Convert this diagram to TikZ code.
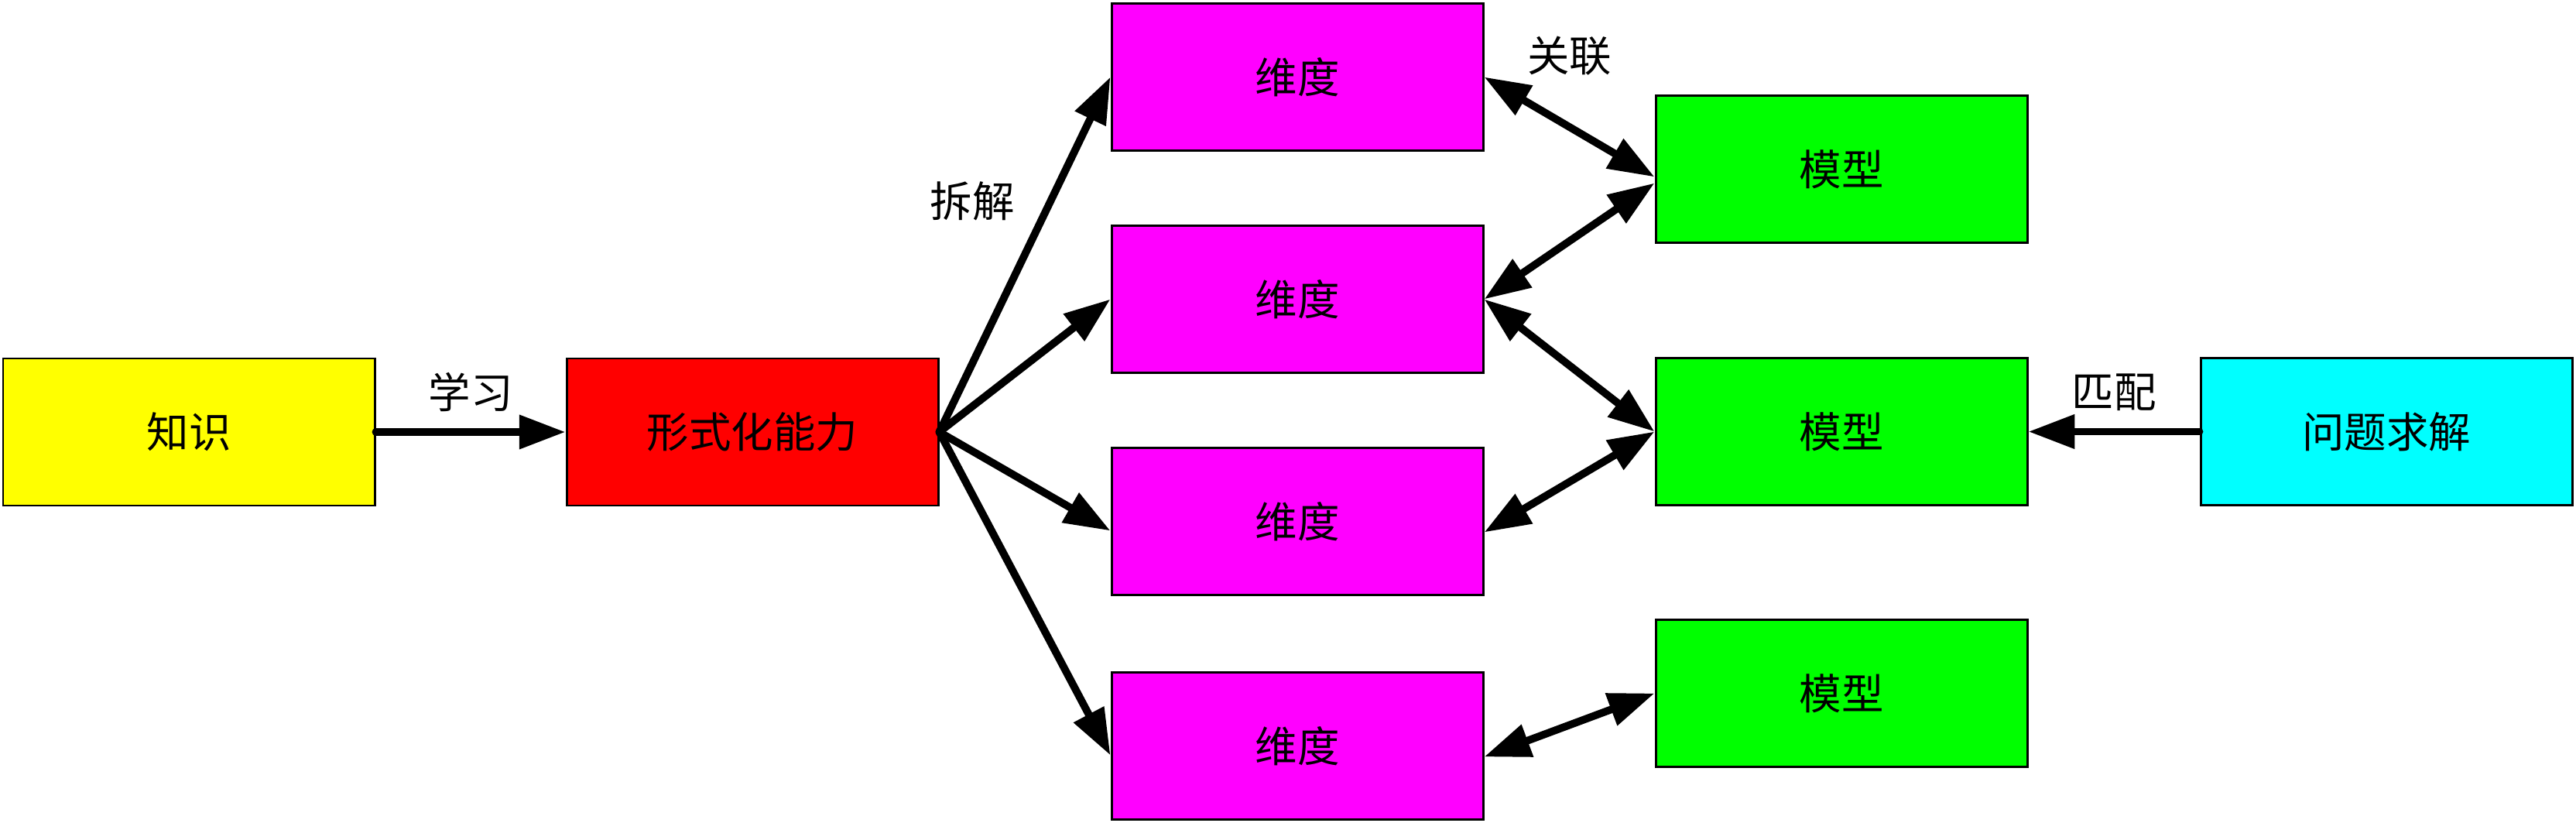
\documentclass[tikz,border=0pt]{standalone}
\usepackage{fontspec}
\newfontfamily\cjk{Noto Sans CJK SC}
\usetikzlibrary{arrows.meta}
\definecolor{knowyellow}{RGB}{255,255,0}
\definecolor{formalred}{RGB}{255,0,0}
\definecolor{dimpink}{RGB}{255,0,255}
\definecolor{modelgreen}{RGB}{0,255,0}
\definecolor{solvecyan}{RGB}{0,255,255}

\begin{document}
\begin{tikzpicture}[box/.style = {draw, line width=0.85pt, minimum width=48mm, minimum height=19mm, inner sep=0pt},
  arr/.style = {line width=2.8pt, line cap=round, -{Triangle[length=17pt,width=12pt]}},
  both/.style = {arr, {Triangle[length=17pt,width=12pt]}-{Triangle[length=17pt,width=12pt]}},
  every node/.style = {font=\cjk\fontsize{15.5}{18}\selectfont}]
  \useasboundingbox (0,0) rectangle (33.28,-10.63);
  % left part
  \node[box, fill=knowyellow] (know) at (2.44,-5.58) {知识};
  \node[box, fill=formalred] (formal) at (9.72,-5.58) {形式化能力};
  % dimensions
  \node[box, fill=dimpink] (dim1) at (16.76,-0.995) {维度};
  \node[box, fill=dimpink] (dim2) at (16.76,-3.865) {维度};
  \node[box, fill=dimpink] (dim3) at (16.76,-6.735) {维度};
  \node[box, fill=dimpink] (dim4) at (16.76,-9.635) {维度};
  % models
  \node[box, fill=modelgreen] (model1) at (23.79,-2.185) {模型};
  \node[box, fill=modelgreen] (model2) at (23.79,-5.575) {模型};
  \node[box, fill=modelgreen] (model3) at (23.79,-8.955) {模型};
  \node[box, fill=solvecyan] (solve) at (30.83,-5.575) {问题求解};

  \draw[arr] (know) -- node[above=1mm] {学习} (formal);
  \draw[arr] (formal.east) -- node[pos=0.65, left=3mm] {拆解} (dim1.west);
  \draw[arr] (formal.east) -- (dim2.west);
  \draw[arr] (formal.east) -- ([yshift=-1.2mm]dim3.west);
  \draw[arr] (formal.east) -- ([yshift=-1.2mm]dim4.west);

  \draw[both] (dim1.east) -- node[above=5mm] {关联} ([yshift=-1mm]model1.west);
  \draw[both] (dim2.east) -- ([yshift=-1.8mm]model1.west);
  \draw[both] (dim2.east) -- (model2.west);
  \draw[both] ([yshift=-1.4mm]dim3.east) -- (model2.west);
  \draw[both] ([yshift=-1.4mm]dim4.east) -- (model3.west);

  \draw[arr] (solve) -- node[above=1mm] {匹配} (model2);
\end{tikzpicture}
\end{document}
